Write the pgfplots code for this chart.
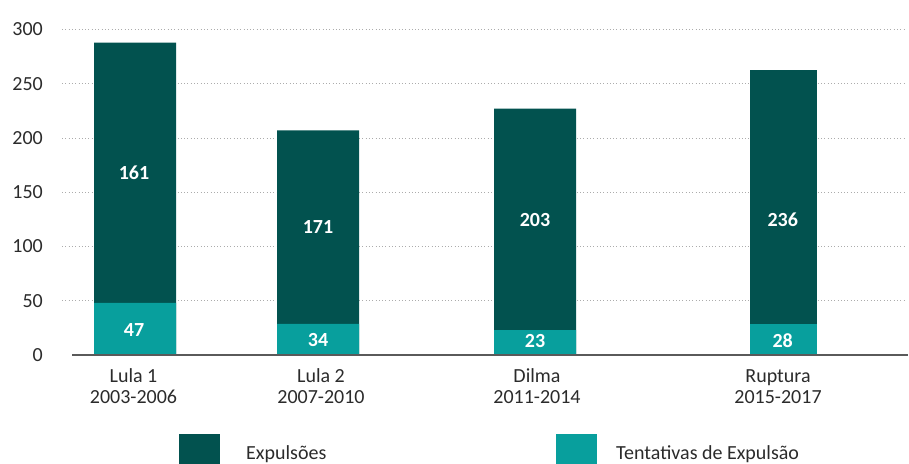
\documentclass[border=0pt]{standalone}
\usepackage{pgfplots}
\pgfplotsset{compat=1.18}
\usepackage{fontspec}
\setmainfont{Carlito}
\definecolor{dark}{HTML}{02524F}
\definecolor{teal2}{HTML}{089F9D}
\definecolor{txt}{HTML}{2B2B2B}
\definecolor{base}{HTML}{5A5A5A}
\begin{document}
\begin{tikzpicture}[x=1bp,y=1bp]
\useasboundingbox (0,0) rectangle (909,464);
\begin{axis}[
  at={(62bp,109bp)}, anchor=south west,
  x=1bp, y=1.085bp, xmin=62, xmax=906, ymin=0, ymax=300,
  axis line style={draw=none}, ytick={50,100,...,300}, xtick=\empty,
  extra y ticks={0}, extra y tick style={grid=none},
  major tick length=0pt,
  ymajorgrids, grid style={color=gray!65, line width=0.9bp, dash pattern=on 1bp off 2.3bp},
  yticklabel style={inner sep=0pt, anchor=east, xshift=-19bp, font=\fontsize{20bp}{24bp}\selectfont, text=txt},
  /pgf/number format/assume math mode=true,
  clip=false, ybar, bar shift=0pt,
]
\addplot[fill=dark, draw=none, bar width=82bp] coordinates {(135,288) (318,207) (535,227)};
\addplot[fill=dark, draw=none, bar width=67bp] coordinates {(783.5,263)};
\addplot[fill=teal2, draw=none, bar width=82bp] coordinates {(135,48) (318,28.6) (535,23)};
\addplot[fill=teal2, draw=none, bar width=67bp] coordinates {(783.5,28.6)};
\draw[line width=2bp, color=base] (axis cs:72,0) -- (axis cs:908,0);
\end{axis}
% value labels
\begin{scope}[every node/.style={inner sep=0pt, text=white, font=\fontsize{20bp}{24bp}\selectfont\bfseries}]
\node at (134,291) {161};
\node at (134,134) {47};
\node at (318,237) {171};
\node at (318,124) {34};
\node at (535,244) {203};
\node at (535,123) {23};
\node at (782.7,244) {236};
\node at (782.7,123) {28};
\end{scope}
% category labels
\begin{scope}[every node/.style={inner sep=0pt, anchor=base, text=txt, font=\fontsize{20bp}{24bp}\selectfont}]
\node at (133.5,81) {Lula 1};
\node at (133.5,60) {2003-2006};
\node at (321,81) {Lula 2};
\node at (321,60) {2007-2010};
\node at (537,81) {Dilma};
\node at (537,60) {2011-2014};
\node at (778,81) {Ruptura};
\node at (778,60) {2015-2017};
\end{scope}
% legend
\fill[dark] (179,0) rectangle (220,30);
\fill[teal2] (556,0) rectangle (597,30);
\node[inner sep=0pt, anchor=base west, text=txt, font=\fontsize{20bp}{24bp}\selectfont] at (246,4.7) {Expulsões};
\node[inner sep=0pt, anchor=base west, text=txt, font=\fontsize{20bp}{24bp}\selectfont] at (616,4.7) {Tentativas de Expulsão};
\end{tikzpicture}
\end{document}
